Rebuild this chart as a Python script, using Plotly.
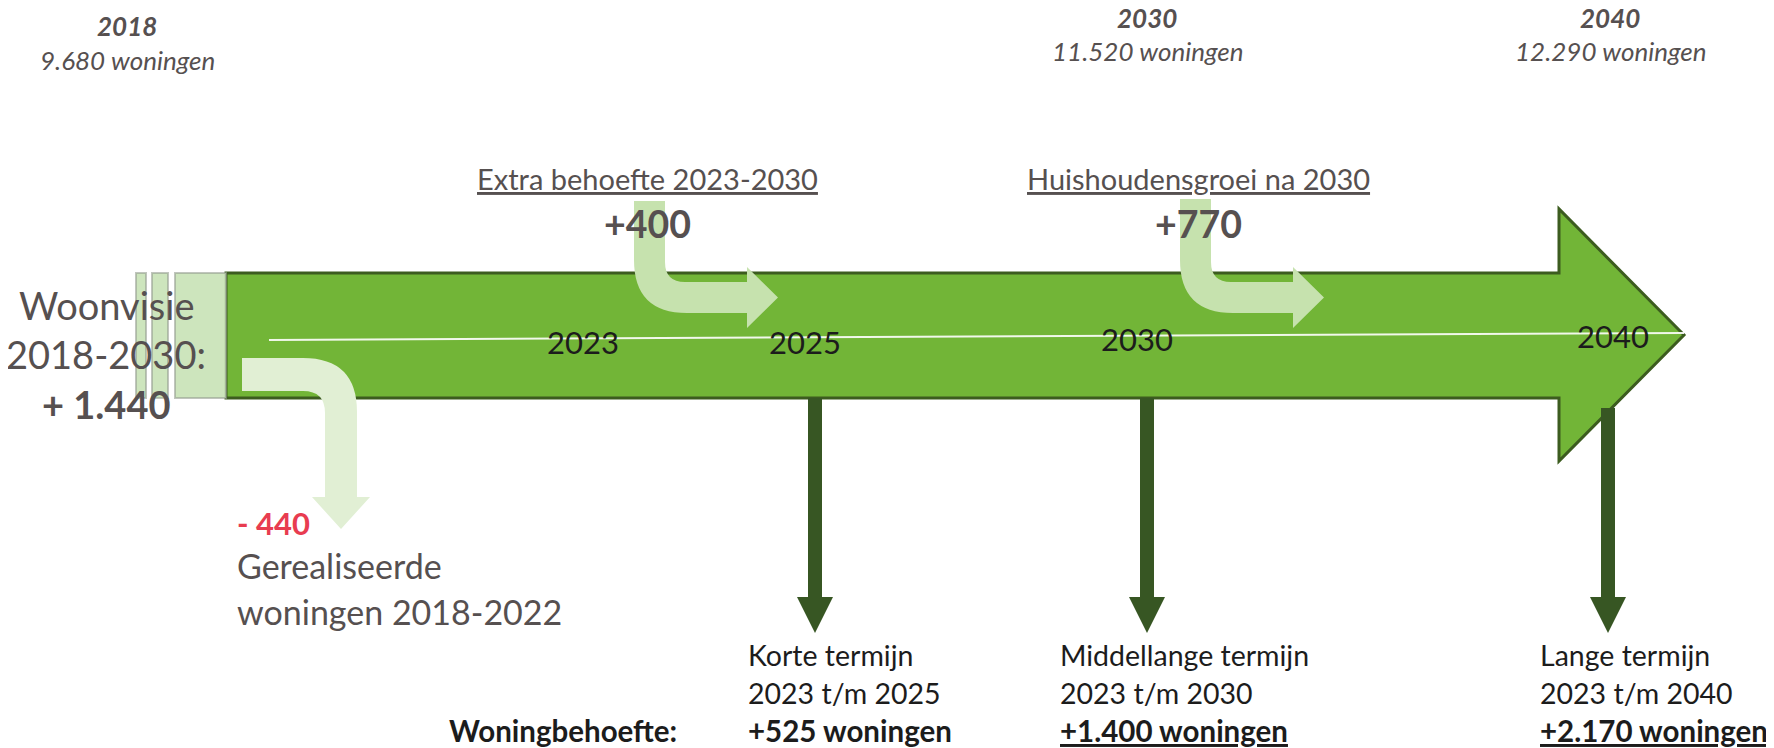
import plotly.graph_objects as go

# ---------------- data ----------------
snapshot_years = [2018, 2030, 2040]
snapshot_homes = [9680, 11520, 12290]
woonvisie_period = "2018-2030"
woonvisie_total = 1440
realised_period = "2018-2022"
realised_homes = -440
extra_labels = ["Extra behoefte 2023-2030", "Huishoudensgroei na 2030"]
extra_values = [400, 770]
timeline_years = [2023, 2025, 2030, 2040]
term_names = ["Korte termijn", "Middellange termijn", "Lange termijn"]
term_periods = ["2023 t/m 2025", "2023 t/m 2030", "2023 t/m 2040"]
term_needs = [525, 1400, 2170]
need_label = "Woningbehoefte:"

# ---------------- layout / style constants ----------------
W, H = 1774, 748
FONT = "Lato"
GREY = "#565050"
BLACK = "#1c1c1c"
RED = "#e83c50"
GREEN = "#72b537"
GREEN_DARK = "#3c5c1f"
ARROW_DARK = "#375623"
BEND_LIGHT = "#c6e2ae"
BEND_PALE = "#e1efd4"

snap_pos = [(119, 18, 52), (1139, 10, 43), (1602, 10, 43)]
timeline_pos = [(575, 334), (797, 334), (1129, 331), (1605, 328)]
extra_x0 = [626, 1172]          # left edge of vertical part of bend arrows
extra_top = [193, 191]
extra_text_x = [639, 1190]
term_arrow_x = [807, 1139, 1600]
term_arrow_top = [390, 390, 400]
term_text_x = [738, 1050, 1530]
term_text_y = [647, 685, 722]


def nl(v):
    return f"{abs(v):,}".replace(",", ".")


fig = go.Figure()
shapes = []
ann = []

# main arrow
main = ("M 218,265 L 1551,265 L 1551,201 L 1676,327 L 1551,453 "
        "L 1551,390 L 218,390 Z")
shapes.append(dict(type="path", path=main, fillcolor=GREEN,
                   line=dict(color=GREEN_DARK, width=3), layer="above"))
# white timeline line
shapes.append(dict(type="line", x0=261, y0=332, x1=1676, y1=325,
                   line=dict(color="rgba(255,255,255,0.9)", width=2), layer="above"))

# light rectangles at start
for x0, x1 in [(128, 138), (144, 160), (167, 218)]:
    shapes.append(dict(type="rect", x0=x0, x1=x1, y0=265, y1=390,
                       fillcolor="rgba(200,226,182,0.9)",
                       line=dict(color="rgba(150,158,145,0.6)", width=2), layer="above"))

# bend arrow down (realised)
bend1 = ("M 234,350 L 295,350 Q 349,350 349,404 L 349,489 L 362,489 "
         "L 333,521 L 304,489 L 317,489 L 317,405 Q 317,383 295,383 L 234,383 Z")
shapes.append(dict(type="path", path=bend1, fillcolor=BEND_PALE,
                   line=dict(width=0), layer="above"))

# bend arrows for extra need
for x0, top in zip(extra_x0, extra_top):
    p = (f"M {x0},{top} L {x0+31},{top} L {x0+31},254 Q {x0+31},274 {x0+51},274 "
         f"L {x0+113},274 L {x0+113},259 L {x0+144},289.5 L {x0+113},320 "
         f"L {x0+113},305 L {x0+53},305 Q {x0},305 {x0},252 Z")
    shapes.append(dict(type="path", path=p, fillcolor=BEND_LIGHT,
                       line=dict(width=0), layer="above"))

# dark down arrows
for xc, yt in zip(term_arrow_x, term_arrow_top):
    p = (f"M {xc-7},{yt} L {xc+7},{yt} L {xc+7},589 L {xc+18},589 L {xc},625 "
         f"L {xc-18},589 L {xc-7},589 Z")
    shapes.append(dict(type="path", path=p, fillcolor=ARROW_DARK,
                       line=dict(width=0), layer="above"))


def text(x, y, s, size, color=GREY, xanchor="center", bold=False, italic=False, underline=False):
    if underline:
        s = f"<u>{s}</u>"
    if bold:
        s = f"<b>{s}</b>"
    if italic:
        s = f"<i>{s}</i>"
    ann.append(dict(x=x, y=y, xref="x", yref="y", text=s, showarrow=False,
                    xanchor=xanchor, yanchor="middle",
                    font=dict(family=FONT, size=size, color=color)))


# snapshot labels at top
for yr, homes, (x, y1, y2) in zip(snapshot_years, snapshot_homes, snap_pos):
    text(x, y1, str(yr), 26, bold=True, italic=True)
    text(x, y2, f"{nl(homes)} woningen", 26, italic=True)

# woonvisie
text(98, 297, "Woonvisie", 38)
text(98, 346, f"{woonvisie_period}:", 38)
text(98, 396, f"+ {nl(woonvisie_total)}", 38, bold=True)

# realised
text(227, 515, f"- {nl(realised_homes)}", 31, color=RED, xanchor="left", bold=True)
text(227, 557, "Gerealiseerde", 34, xanchor="left")
text(227, 603, f"woningen {realised_period}", 34, xanchor="left")

# extra needs
for lab, val, x in zip(extra_labels, extra_values, extra_text_x):
    text(x, 170, lab, 29, underline=True)
    text(x, 215, f"+{val}", 37.5, bold=True)

# timeline years
for yr, (x, y) in zip(timeline_years, timeline_pos):
    text(x, y, str(yr), 31, color=BLACK)

# term labels
for i, (nm, per, need, x) in enumerate(zip(term_names, term_periods, term_needs, term_text_x)):
    text(x, term_text_y[0], nm, 28.5, color=BLACK, xanchor="left")
    text(x, term_text_y[1], per, 28.5, color=BLACK, xanchor="left")
    text(x, term_text_y[2], f"+{nl(need)} woningen", 29.5, color=BLACK,
         xanchor="left", bold=True, underline=(i > 0))
text(439, term_text_y[2], need_label, 29.5, color=BLACK, xanchor="left", bold=True)

fig.update_layout(
    width=W, height=H,
    margin=dict(l=0, r=0, t=0, b=0),
    paper_bgcolor="white", plot_bgcolor="white",
    xaxis=dict(range=[0, W], visible=False, fixedrange=True),
    yaxis=dict(range=[H, 0], visible=False, fixedrange=True),
    shapes=shapes, annotations=ann, showlegend=False,
)
fig.write_html("out.html")
